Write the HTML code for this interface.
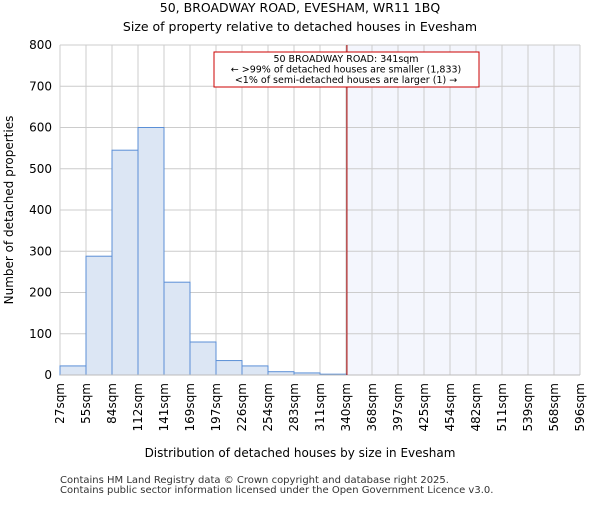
<!DOCTYPE html>
<html><head><meta charset="utf-8"><style>
body{margin:0;background:#fff;font-family:"Liberation Sans","DejaVu Sans",sans-serif}
svg text{font-family:"DejaVu Sans","Liberation Sans",sans-serif}
</style></head><body>
<svg id="c" width="600" height="500" xmlns="http://www.w3.org/2000/svg">
<text x="300" y="12" text-anchor="middle" font-size="12.5">50, BROADWAY ROAD, EVESHAM, WR11 1BQ</text>
<text x="300" y="31" text-anchor="middle" font-size="12.5">Size of property relative to detached houses in Evesham</text>
<g id="plot"></g>
<text x="300" y="457" text-anchor="middle" font-size="12">Distribution of detached houses by size in Evesham</text>
<text transform="translate(13,210) rotate(-90)" text-anchor="middle" font-size="12">Number of detached properties</text>
<text x="60" y="483" font-size="10" fill="#333">Contains HM Land Registry data © Crown copyright and database right 2025.</text>
<text x="60" y="493" font-size="10" fill="#333">Contains public sector information licensed under the Open Government Licence v3.0.</text>
</svg>
<script>
const binLabels=["27sqm","55sqm","84sqm","112sqm","141sqm","169sqm","197sqm","226sqm","254sqm","283sqm","311sqm","340sqm","368sqm","397sqm","425sqm","454sqm","482sqm","511sqm","539sqm","568sqm","596sqm"];
const counts=[22,288,545,600,225,80,35,22,8,5,2,0,0,0,0,0,0,0,0,0];
const yTicks=[0,100,200,300,400,500,600,700,800];
const propertySize=341;
const binEdges=[27,55,84,112,141,169,197,226,254,283,311,340,368,397,425,454,482,511,539,568,596];
const L=60,R=580,T=45,B=375,NS="http://www.w3.org/2000/svg";
const bw=(R-L)/counts.length;
const y=v=>B-(v/800)*(B-T);
const xi=i=>L+i*bw;
function xv(v){for(let i=0;i<binEdges.length-1;i++){if(v<=binEdges[i+1])return xi(i)+(v-binEdges[i])/(binEdges[i+1]-binEdges[i])*bw;}return R;}
const g=document.getElementById('plot');
function mk(t,a){const e=document.createElementNS(NS,t);for(const k in a)e.setAttribute(k,a[k]);g.appendChild(e);return e;}
const px=xv(propertySize);
let sh=mk('rect',{x:px,y:T,width:R-px,height:B-T,fill:'#f4f6fd'});


yTicks.forEach(t=>{let l=mk('line',{x1:L,x2:R,y1:y(t),y2:y(t),stroke:'#ccc'});


let tx=mk('text',{x:L-8,y:y(t)+4,'text-anchor':'end','font-size':'12'});tx.textContent=t;

});
binLabels.forEach((s,i)=>{let l=mk('line',{x1:xi(i),x2:xi(i),y1:T,y2:B,stroke:'#ccc'});


let tx=mk('text',{transform:`translate(${xi(i)+4},${B+8}) rotate(-90)`,'text-anchor':'end','font-size':'12'});tx.textContent=s;

});
counts.forEach((c,i)=>{if(c<=0)return;let r=mk('rect',{x:xi(i),y:y(c),width:bw,height:B-y(c),fill:'#dce6f4',stroke:'#5b8fd6','stroke-width':1});

});
let ax=mk('line',{x1:L,x2:R,y1:B,y2:B,stroke:'#bbb'});


let pl=mk('line',{x1:px,x2:px,y1:T,y2:B,stroke:'#a00','stroke-width':1});


let box=mk('rect',{x:214,y:52,width:265,height:35,fill:'#fff',stroke:'#c00'});


["50 BROADWAY ROAD: 341sqm","← >99% of detached houses are smaller (1,833)","<1% of semi-detached houses are larger (1) →"].forEach((s,i)=>{let t=mk('text',{x:346,y:62+i*10.5,'text-anchor':'middle','font-size':'9.5'});t.textContent=s;

});
</script>
</body></html>
